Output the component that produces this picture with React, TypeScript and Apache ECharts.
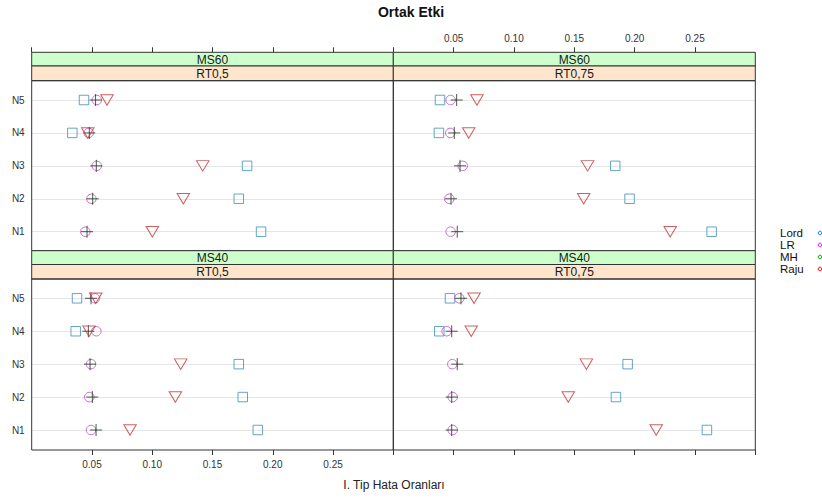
import React, { useEffect, useRef } from "react";
import * as echarts from "echarts";

// ---- data ----
const categories = ["N1", "N2", "N3", "N4", "N5"];
const methods = ["Lord", "LR", "MH", "Raju"];
const msLabels = ["MS60", "MS60", "MS40", "MS40"];
const rtLabels = ["RT0,5", "RT0,75", "RT0,5", "RT0,75"];
const xMin = 0;
const xMax = 0.3;
const xStep = 0.05;

// values per panel (MS60-RT0,5, MS60-RT0,75, MS40-RT0,5, MS40-RT0,75), N1..N5
const lordValues = [
  [0.1903, 0.1718, 0.1787, 0.0337, 0.0434],
  [0.2638, 0.1958, 0.1839, 0.0378, 0.0387],
  [0.1876, 0.1751, 0.1718, 0.0365, 0.0376],
  [0.2599, 0.1845, 0.1942, 0.0381, 0.047],
];
const lrValues = [
  [0.0445, 0.0495, 0.054, 0.0473, 0.054],
  [0.0475, 0.0464, 0.0575, 0.0472, 0.0475],
  [0.0492, 0.0478, 0.0492, 0.0536, 0.0525],
  [0.0492, 0.0492, 0.0489, 0.0442, 0.0547],
];
const mhValues = [
  [0.0459, 0.0506, 0.0536, 0.0478, 0.053],
  [0.053, 0.0478, 0.0553, 0.0505, 0.0525],
  [0.0534, 0.0503, 0.0484, 0.047, 0.0492],
  [0.0484, 0.0484, 0.053, 0.0484, 0.0561],
];
const rajuValues = [
  [0.1001, 0.1258, 0.1419, 0.0465, 0.0625],
  [0.2295, 0.1578, 0.161, 0.0625, 0.0693],
  [0.0816, 0.1192, 0.1236, 0.0476, 0.0531],
  [0.2179, 0.145, 0.16, 0.0646, 0.0669],
];

const FONT = "'Liberation Sans', Arial, sans-serif";

export default function App() {
  const ref = useRef<HTMLDivElement>(null);

  useEffect(() => {
    if (!ref.current) return;
    const chart = echarts.init(ref.current, null, { renderer: "svg" });

    const panels = [
      { x: 31.7, y: 80.7, w: 361.6, h: 170, stripTop: 52.3, ptsTop: 100, top: true, labels: false, yLabels: true },
      { x: 393.3, y: 80.7, w: 362, h: 170, stripTop: 52.3, ptsTop: 100, top: true, labels: true, yLabels: false },
      { x: 31.7, y: 279, w: 361.6, h: 171, stripTop: 250.7, ptsTop: 298.3, top: false, labels: true, yLabels: true },
      { x: 393.3, y: 279, w: 362, h: 171, stripTop: 250.7, ptsTop: 298.3, top: false, labels: false, yLabels: false },
    ];
    const ptsH = 131.7;

    const grids: any[] = [];
    const xAxes: any[] = [];
    const yAxes: any[] = [];
    const series: any[] = [];
    const graphics: any[] = [];

    const styles = [
      { symbol: "rect", size: 9.5, rotate: 0, color: "#3c8fba", values: lordValues },
      { symbol: "circle", size: 9.5, rotate: 0, color: "#c04ac8", values: lrValues },
      { symbol: "path://M5,0L5,10M0,5L10,5", size: 12, rotate: 0, color: "#1d331d", values: mhValues },
      { symbol: "triangle", size: [12.5, 10.5], rotate: 180, color: "#c0393b", values: rajuValues },
    ];

    panels.forEach((p, i) => {
      grids.push({ left: p.x, top: p.ptsTop, width: p.w, height: ptsH, containLabel: false });
      xAxes.push({
        type: "value",
        gridIndex: i,
        min: xMin,
        max: xMax,
        interval: xStep,
        position: p.top ? "top" : "bottom",
        offset: p.top ? p.ptsTop - p.stripTop : p.y + p.h - (p.ptsTop + ptsH),
        axisLine: { show: false },
        axisTick: { show: true, length: 5, inside: false, lineStyle: { color: "#333", width: 1 } },
        splitLine: { show: false },
        axisLabel: {
          show: p.labels,
          showMinLabel: false,
          showMaxLabel: false,
          margin: 9,
          fontSize: 10,
          color: "#333",
          fontFamily: FONT,
          formatter: (v: number) => v.toFixed(2),
        },
      });
      yAxes.push({
        type: "category",
        gridIndex: i,
        data: categories,
        boundaryGap: false,
        axisLine: { show: false },
        axisTick: { show: false },
        splitLine: { show: true, lineStyle: { color: "#e6e6e6", width: 1 } },
        axisLabel: { show: p.yLabels, margin: 7, fontSize: 10, color: "#333", fontFamily: FONT },
      });

      styles.forEach((s, m) => {
        series.push({
          type: "scatter",
          name: methods[m],
          xAxisIndex: i,
          yAxisIndex: i,
          symbol: s.symbol,
          symbolSize: s.size,
          symbolRotate: s.rotate,
          itemStyle: { color: "rgba(0,0,0,0)", borderColor: s.color, borderWidth: 1 },
          emphasis: { disabled: true },
          data: s.values[i].map((v, k) => [v, categories[k]]),
          z: 3 + m,
        });
      });

      const greenH = p.top ? 13.7 : 13.8;
      const stripH = p.y - p.stripTop;
      graphics.push({
        type: "rect",
        shape: { x: p.x, y: p.stripTop, width: p.w, height: greenH },
        style: { fill: "#ccffcc", stroke: "#333", lineWidth: 1 },
        z: 1,
      });
      graphics.push({
        type: "rect",
        shape: { x: p.x, y: p.stripTop + greenH, width: p.w, height: stripH - greenH },
        style: { fill: "#ffe5cc", stroke: "#333", lineWidth: 1 },
        z: 1,
      });
      graphics.push({
        type: "text",
        x: p.x + p.w / 2,
        y: p.stripTop + greenH / 2 + 0.5,
        style: { text: msLabels[i], fill: "#1a1a1a", fontSize: 12, fontFamily: FONT, align: "center", verticalAlign: "middle" },
        z: 2,
      });
      graphics.push({
        type: "text",
        x: p.x + p.w / 2,
        y: p.stripTop + greenH + (stripH - greenH) / 2 + 0.5,
        style: { text: rtLabels[i], fill: "#1a1a1a", fontSize: 12, fontFamily: FONT, align: "center", verticalAlign: "middle" },
        z: 2,
      });
      graphics.push({
        type: "rect",
        shape: { x: p.x, y: p.y, width: p.w, height: p.h },
        style: { fill: "none", stroke: "#333", lineWidth: 1 },
        z: 1,
      });
    });

    graphics.push({
      type: "text",
      x: 411,
      y: 12,
      style: { text: "Ortak Etki", fill: "#111", fontSize: 14, fontWeight: "bold", fontFamily: FONT, align: "center", verticalAlign: "middle" },
    });
    graphics.push({
      type: "text",
      x: 394,
      y: 485,
      style: { text: "I. Tip Hata Oranları", fill: "#222", fontSize: 12, fontFamily: FONT, align: "center", verticalAlign: "middle" },
    });

    const legendColors = ["#0080ff", "#ff00ff", "#00a000", "#ff0000"];
    methods.forEach((m, k) => {
      const yy = 233 + k * 12;
      graphics.push({
        type: "text",
        x: 780,
        y: yy,
        style: { text: m, fill: "#111", fontSize: 11.5, lineHeight: 11, fontFamily: FONT, align: "left", verticalAlign: "middle" },
      });
      graphics.push({
        type: "circle",
        shape: { cx: 820, cy: yy, r: 1.8 },
        style: { fill: "none", stroke: legendColors[k], lineWidth: 1 },
      });
    });

    chart.setOption({
      animation: false,
      backgroundColor: "#ffffff",
      textStyle: { fontFamily: FONT },
      grid: grids,
      xAxis: xAxes,
      yAxis: yAxes,
      series,
      graphic: graphics,
    });

    return () => chart.dispose();
  }, []);

  return (
    <div
      ref={ref}
      style={{ position: "absolute", left: 0, top: 0, width: 822, height: 498 }}
    />
  );
}
